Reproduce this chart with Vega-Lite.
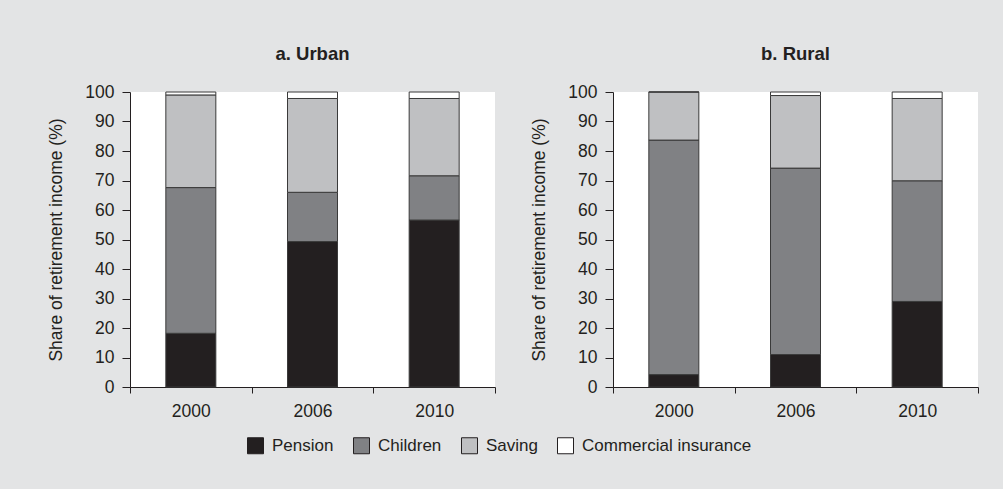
{
  "$schema": "https://vega.github.io/schema/vega-lite/v6.json",
  "background": "#e3e4e5",
  "padding": {"left": 47, "top": 44, "right": 30, "bottom": 40},
  "data": {"values": [
    {"area": "Urban", "year": "2000", "source": "Pension", "value": 18.2, "o": 1},
    {"area": "Urban", "year": "2000", "source": "Children", "value": 49.4, "o": 2},
    {"area": "Urban", "year": "2000", "source": "Saving", "value": 31.4, "o": 3},
    {"area": "Urban", "year": "2000", "source": "Commercial insurance", "value": 1.0, "o": 4},
    {"area": "Urban", "year": "2006", "source": "Pension", "value": 49.3, "o": 1},
    {"area": "Urban", "year": "2006", "source": "Children", "value": 16.7, "o": 2},
    {"area": "Urban", "year": "2006", "source": "Saving", "value": 31.8, "o": 3},
    {"area": "Urban", "year": "2006", "source": "Commercial insurance", "value": 2.2, "o": 4},
    {"area": "Urban", "year": "2010", "source": "Pension", "value": 56.6, "o": 1},
    {"area": "Urban", "year": "2010", "source": "Children", "value": 15.0, "o": 2},
    {"area": "Urban", "year": "2010", "source": "Saving", "value": 26.2, "o": 3},
    {"area": "Urban", "year": "2010", "source": "Commercial insurance", "value": 2.2, "o": 4},
    {"area": "Rural", "year": "2000", "source": "Pension", "value": 4.2, "o": 1},
    {"area": "Rural", "year": "2000", "source": "Children", "value": 79.5, "o": 2},
    {"area": "Rural", "year": "2000", "source": "Saving", "value": 16.3, "o": 3},
    {"area": "Rural", "year": "2000", "source": "Commercial insurance", "value": 0, "o": 4},
    {"area": "Rural", "year": "2006", "source": "Pension", "value": 11.0, "o": 1},
    {"area": "Rural", "year": "2006", "source": "Children", "value": 63.2, "o": 2},
    {"area": "Rural", "year": "2006", "source": "Saving", "value": 24.6, "o": 3},
    {"area": "Rural", "year": "2006", "source": "Commercial insurance", "value": 1.2, "o": 4},
    {"area": "Rural", "year": "2010", "source": "Pension", "value": 29.0, "o": 1},
    {"area": "Rural", "year": "2010", "source": "Children", "value": 40.9, "o": 2},
    {"area": "Rural", "year": "2010", "source": "Saving", "value": 27.9, "o": 3},
    {"area": "Rural", "year": "2010", "source": "Commercial insurance", "value": 2.2, "o": 4}
  ]},
  "spacing": 34,
  "hconcat": [
    {
      "title": {"text": "a. Urban"},
      "width": 365, "height": 295,
      "transform": [{"filter": "datum.area === 'Urban'"}],
      "mark": {"type": "bar", "size": 50, "stroke": "#3a3a3a", "strokeWidth": 1},
      "encoding": {
        "x": {"field": "year", "type": "nominal", "title": null, "scale": {"paddingInner": 0, "paddingOuter": 0}},
        "y": {"field": "value", "type": "quantitative", "stack": "zero", "title": "Share of retirement income (%)", "scale": {"domain": [0, 100]}, "axis": {"values": [0,10,20,30,40,50,60,70,80,90,100]}},
        "color": {"field": "source", "type": "nominal", "title": null,
          "scale": {"domain": ["Pension", "Children", "Saving", "Commercial insurance"], "range": ["#231f20", "#808184", "#bfc0c2", "#ffffff"]},
          "legend": {"orient": "none", "legendX": 117, "legendY": 345, "direction": "horizontal"}},
        "order": {"field": "o", "type": "quantitative"}
      }
    },
    {
      "title": {"text": "b. Rural"},
      "width": 365, "height": 295,
      "transform": [{"filter": "datum.area === 'Rural'"}],
      "mark": {"type": "bar", "size": 50, "stroke": "#3a3a3a", "strokeWidth": 1},
      "encoding": {
        "x": {"field": "year", "type": "nominal", "title": null, "scale": {"paddingInner": 0, "paddingOuter": 0}},
        "y": {"field": "value", "type": "quantitative", "stack": "zero", "title": "Share of retirement income (%)", "scale": {"domain": [0, 100]}, "axis": {"values": [0,10,20,30,40,50,60,70,80,90,100]}},
        "color": {"field": "source", "type": "nominal", "title": null,
          "scale": {"domain": ["Pension", "Children", "Saving", "Commercial insurance"], "range": ["#231f20", "#808184", "#bfc0c2", "#ffffff"]},
          "legend": {"orient": "none", "legendX": 117, "legendY": 345, "direction": "horizontal"}},
        "order": {"field": "o", "type": "quantitative"}
      }
    }
  ],
  "resolve": {"scale": {"x": "independent", "y": "independent"}},
  "config": {
    "font": "Liberation Sans",
    "view": {"fill": "white", "stroke": null},
    "title": {"fontSize": 18.5, "fontWeight": "bold", "color": "#231f20", "anchor": "middle", "offset": 20},
    "axis": {
      "domainColor": "#231f20", "tickColor": "#231f20", "labelColor": "#231f20", "titleColor": "#231f20",
      "labelFont": "Liberation Sans", "titleFont": "Liberation Sans",
      "labelFontSize": 17.5, "titleFontSize": 17.5, "titleFontWeight": "normal",
      "grid": false, "tickSize": 8, "domainWidth": 1, "tickWidth": 1
    },
    "axisX": {"labelAngle": 0, "tickBand": "extent", "labelPadding": 9, "tickSize": 6},
    "axisY": {"labelPadding": 8, "titlePadding": 19},
    "legend": {
      "labelFontSize": 17, "labelColor": "#231f20", "labelLimit": 400, "symbolType": "square", "symbolSize": 256,
      "symbolStrokeColor": "#231f20", "symbolStrokeWidth": 1, "labelOffset": 8, "columnPadding": 17
    }
  }
}
